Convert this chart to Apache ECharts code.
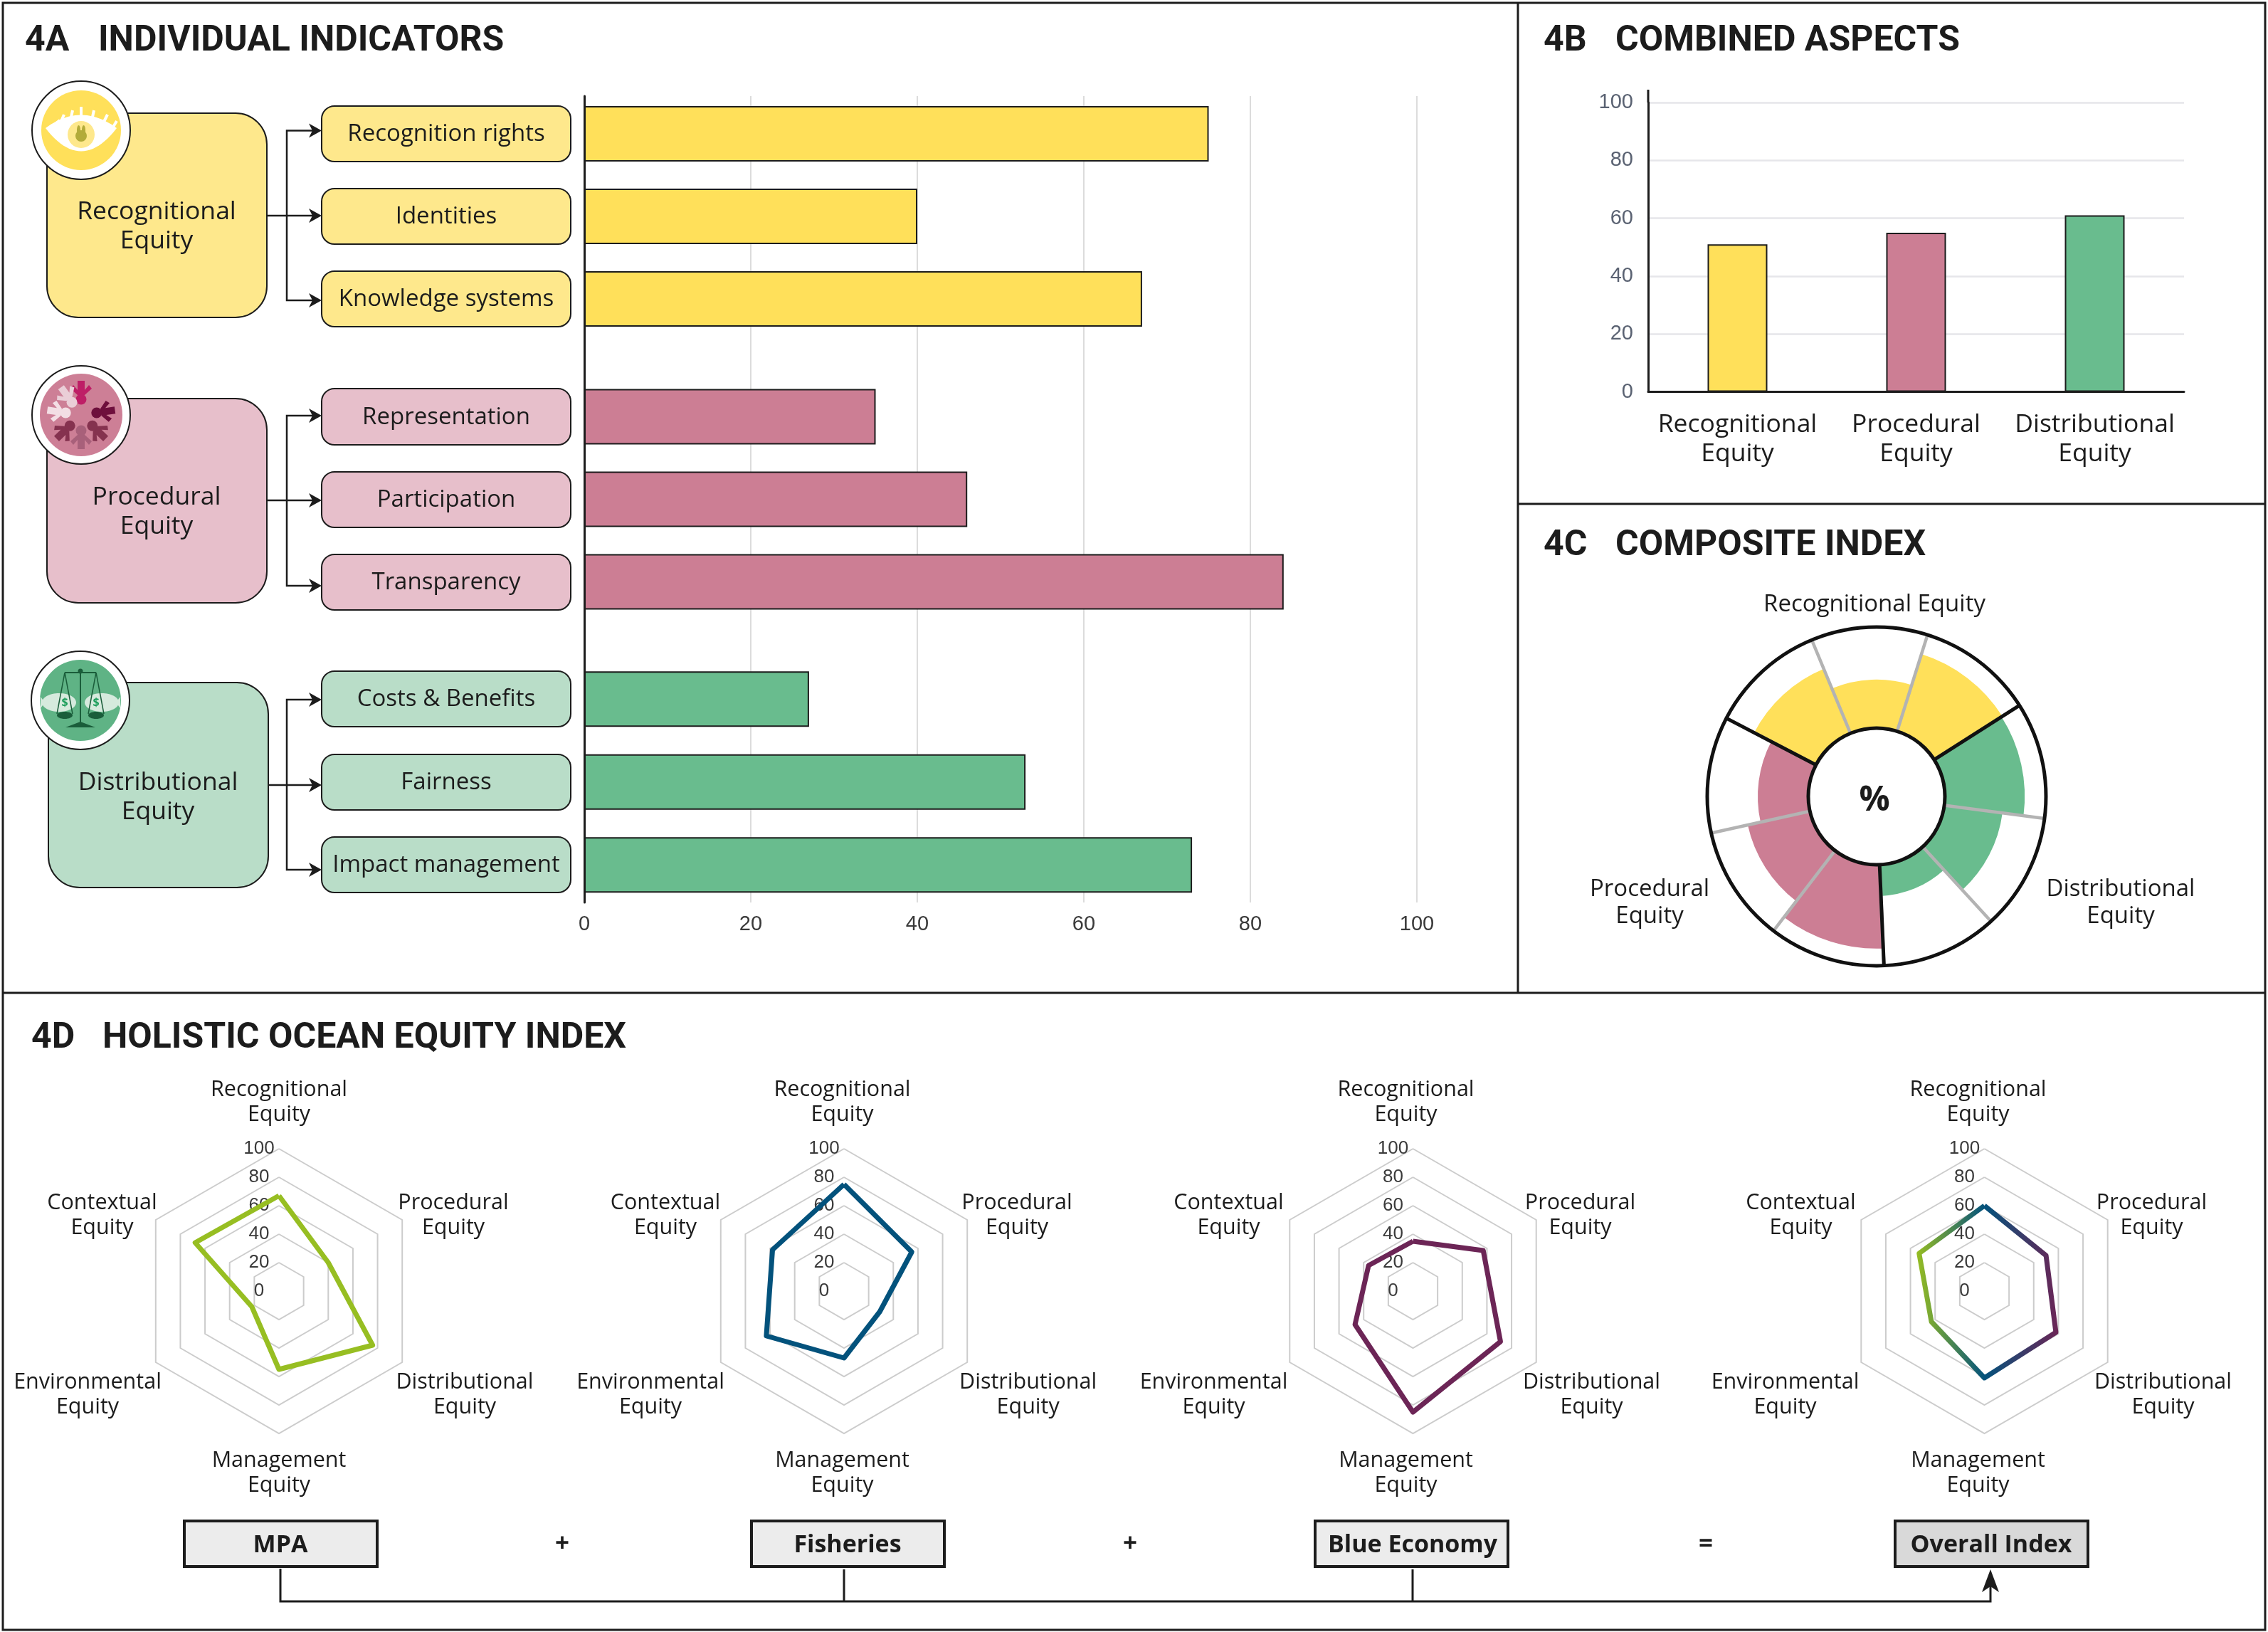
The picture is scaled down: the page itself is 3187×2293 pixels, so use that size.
<!DOCTYPE html>
<html>
<head>
<meta charset="utf-8">
<script src="https://cdn.jsdelivr.net/npm/echarts@6/dist/echarts.min.js"></script>
<style>html,body{margin:0;padding:0;background:#fff}#c{width:3187px;height:2293px}</style>
</head>
<body>
<div id="c"></div>
<script>
// ---------- DATA ----------
const indicatorNames = ['Recognition rights','Identities','Knowledge systems','Representation','Participation','Transparency','Costs & Benefits','Fairness','Impact management'];
const indicatorValues = [75,40,67,35,46,84,27,53,73];
const aspectNames = ['Recognitional Equity','Procedural Equity','Distributional Equity'];
const aspectValues = [51,55,61];
const compositeNames = ['Recognition rights','Identities','Knowledge systems','Costs & Benefits','Fairness','Impact management','Representation','Participation','Transparency'];
const compositeValues = [69,48,80,79,58,31,83,63,50];
const radarAxes = ['Recognitional Equity','Procedural Equity','Distributional Equity','Management Equity','Environmental Equity','Contextual Equity'];
const mpaValues = [67,40,76,55,22,68];
const fisheriesValues = [75,55,29,47,63,58];
const blueEconomyValues = [35,57,71,85,47,36];
const overallValues = [60,50,58,61,43,53];
const radarTitles = ['MPA','Fisheries','Blue Economy','Overall Index'];

// ---------- STYLE ----------
const YEL='#FFE05A',YEL2='#FEE88C',PNK='#CC7E94',PNK2='#E7BFCB',GRN='#69BC8E',GRN2='#B9DDC8';
const INK='#1c1c1c', SANS='"Open Sans"', HEAD='Roboto', NUM='"Liberation Sans"';
const groupColors=[YEL,YEL,YEL,PNK,PNK,PNK,GRN,GRN,GRN];
const aspectColors=[YEL,PNK,GRN];
const compositeColors=[YEL,YEL,YEL,GRN,GRN,GRN,PNK,PNK,PNK];

const g=[];
function line(pts,w,c,z){g.push({type:'polyline',z:z||1,shape:{points:pts},style:{stroke:c||INK,lineWidth:w||3,fill:null,lineJoin:'miter'},silent:true});}
function poly(pts,c,z){g.push({type:'polygon',z:z||3,shape:{points:pts},style:{fill:c},silent:true});}
function circ(x,y,r,fill,stroke,w,z){g.push({type:'circle',z:z||3,shape:{cx:x,cy:y,r:r},style:{fill:fill,stroke:stroke||null,lineWidth:w||0},silent:true});}
function ell(x,y,rx,ry,fill,z){g.push({type:'ellipse',z:z||3,shape:{cx:x,cy:y,rx:rx,ry:ry},style:{fill:fill},silent:true});}
function box(x0,y0,x1,y1,r,fill,stroke,w,z){g.push({type:'rect',z:z||2,shape:{x:x0,y:y0,width:x1-x0,height:y1-y0,r:r},style:{fill:fill,stroke:stroke,lineWidth:w},silent:true});}
function txt(t,x,y,size,o){o=o||{};g.push({type:'text',z:o.z||5,silent:true,style:{text:t,x:x,y:y,fontFamily:o.font||SANS,fontSize:size,fontWeight:o.weight||'normal',fill:o.fill||INK,align:o.align||'center',verticalAlign:o.va||'middle',lineHeight:o.lh||Math.round(size*1.17)}});}

// ---------- PANELS ----------
const P=3;
box(4,4,3183,2290,0,'transparent',INK,P,1);
line([[2133,4],[2133,1395]],P,INK,1);
line([[2133,708],[3183,708]],P,INK,1);
line([[4,1395],[3183,1395]],P,INK,1);
// titles
[['4A','INDIVIDUAL INDICATORS',35,138,58],['4B','COMBINED ASPECTS',2169,2270,58],['4C','COMPOSITE INDEX',2169,2270,767],['4D','HOLISTIC OCEAN EQUITY INDEX',44,144,1459]].forEach(t=>{
  txt(t[0],t[2],t[4],50,{font:HEAD,weight:'bold',align:'left'});
  txt(t[1],t[3],t[4],50,{font:HEAD,weight:'bold',align:'left'});
});

// ---------- 4A left flow ----------
const flow=[
 {x0:66,x1:375,y0:159,y1:446,fill:YEL2,tx:220,ty:318,name:'Recognitional\nEquity',rows:[[149,227],[265,343],[381,459]],arrows:[183.5,303,422]},
 {x0:66,x1:375,y0:560,y1:847,fill:PNK2,tx:220,ty:719,name:'Procedural\nEquity',rows:[[546,625],[663,741],[779,857]],arrows:[584,703,823]},
 {x0:68,x1:377,y0:959,y1:1247,fill:GRN2,tx:222,ty:1120,name:'Distributional\nEquity',rows:[[943,1021],[1060,1138],[1176,1254]],arrows:[983,1103,1222]}
];
flow.forEach((f,i)=>{
  box(f.x0,f.y0,f.x1,f.y1,44,f.fill,INK,2,2);
  txt(f.name,f.tx,f.ty,35.5,{lh:41});
  f.rows.forEach((r,j)=>{
    box(452,r[0],802,r[1],18,f.fill,INK,2,2);
    txt(indicatorNames[i*3+j],627,(r[0]+r[1])/2+1,33,{});
  });
  const a=f.arrows;
  line([[f.x1,a[1]],[440,a[1]]],2.5);
  line([[440,a[0]],[403,a[0]],[403,a[2]],[440,a[2]]],2.5);
  a.forEach(y=>poly([[452,y],[434,y-10],[439,y],[434,y+10]],INK,3));
});

// icons
function bz(p0,c,p1,n){const o=[];for(let i=0;i<=n;i++){const t=i/n,u=1-t;o.push([u*u*p0[0]+2*u*t*c[0]+t*t*p1[0],u*u*p0[1]+2*u*t*c[1]+t*t*p1[1]]);}return o;}
// eye
(function(){
 const cx=114,cy=183;
 circ(cx,cy,69,'#fff',INK,2,3); circ(cx,cy,56,YEL,null,0,3);
 poly(bz([cx-50,cy-3],[cx,cy-40],[cx+50,cy-3],24).concat(bz([cx+50,cy-3],[cx,cy+62],[cx-50,cy-3],24)),'#fff',4);
 [[-44,-3,-30,-14],[-30,-8,-24,-22],[-15,-14,-12,-28],[0,-17,0,-33],[15,-14,18,-28],[30,-8,37,-22],[44,-3,50,-13]].forEach(l=>line([[cx+l[0],cy+l[1]],[cx+l[2],cy+l[3]]],4,'#fff',4));
 circ(cx,cy+6,19,YEL2,null,0,5);
 circ(cx,cy+8,8,'#B3AB3A',null,0,6);
 ell(cx-3.5,cy,2.5,7,'#B3AB3A',6); ell(cx+3.5,cy,2.5,7,'#B3AB3A',6);
})();
// people
(function(){
 const cx=114,cy=583;
 circ(cx,cy,69,'#fff',INK,2,3); circ(cx,cy,58,'#CD7F96',null,0,3);
 const cols=['#BE1E66','#6E0F3C','#85324F','#A8607A','#85324F','#F3DEE4','#EACED7'];
 const angs=[-90,-8,44,90,136,188,234];
 const body=[[28,-5],[37,-15],[42,-11],[35,-5],[48,-5],[48,5],[35,5],[42,11],[37,15],[28,5]];
 cols.forEach((c,i)=>{
  const a=angs[i]*Math.PI/180, ca=Math.cos(a), sa=Math.sin(a);
  poly(body.map(p=>[cx+p[0]*ca-p[1]*sa,cy+p[0]*sa+p[1]*ca]),c,5);
  circ(cx+22*ca,cy+22*sa,7.5,c,null,0,5);
 });
})();
// scales
(function(){
 const cx=113,cy=984,d='#1A5D3A',pale='#D6EADD';
 circ(cx,cy,69,'#fff',INK,2,3); circ(cx,cy,57,'#5FB385',null,0,3);
 [-1,1].forEach(s=>{
  ell(cx+s*30,cy+3,24,13,pale,4);
  poly([[cx+s*50,cy+3],[cx+s*56,cy-5],[cx+s*56,cy+11]],pale,4);
  line([[cx+s*22,cy-39],[cx+s*11,cy+19]],1.5,d,5);
  line([[cx+s*22,cy-39],[cx+s*33,cy+19]],1.5,d,5);
  ell(cx+s*22,cy+21,11,5,d,5);
  txt('$',cx+s*22,cy+3,16,{fill:'#1E9E5C',weight:'bold',z:6});
 });
 line([[cx-22,cy-39],[cx+22,cy-39]],2,d,5);
 line([[cx,cy-41],[cx,cy+36]],2,d,5);
 circ(cx,cy-41,3.5,d,null,0,5);
 poly([[cx-21,cy+38],[cx,cy+30],[cx+21,cy+38]],d,5);
})();

// ---------- 4C texts ----------
txt('Recognitional Equity',2634,850,33);
txt('Procedural\nEquity',2318,1269,33,{lh:38});
txt('Distributional\nEquity',2980,1269,33,{lh:38});
txt('%',2634,1125,48,{weight:'bold',z:8});

// ---------- 4D texts / boxes ----------
const radarCenters=[[392,1814],[1186,1814],[1985.5,1814],[2788.5,1814]];
const nameOff=[
 [[0,-265],[245,-106],[261,146],[0,256],[-269,146],[-248.5,-106]],
 [[-2.5,-265],[243,-106],[258.6,146],[-2.5,256],[-272,146],[-251,-106]],
 [[-10,-265],[235,-106],[251,146],[-10,256],[-280,146],[-259,-106]],
 [[-9,-265],[235,-106],[251,146],[-9,256],[-280,146],[-258,-106]]
];
radarCenters.forEach((c,i)=>{
  radarAxes.forEach((n,j)=>txt(n.replace(' ','\n'),c[0]+nameOff[i][j][0],c[1]+nameOff[i][j][1],30.5,{lh:35}));
});
const boxes=[[259,530,'#ececec',394],[1056,1327,'#ececec',1191],[1848,2119,'#ececec',1985],[2663,2934,'#d9d9d9',2798]];
boxes.forEach((b,i)=>{
  box(b[0],2137,b[1],2201,0,b[2],INK,4,2);
  txt(radarTitles[i],b[3],2171,34,{weight:'bold'});
});
txt('+',790,2170,35,{weight:'bold'});
txt('+',1588,2170,35,{weight:'bold'});
txt('=',2397,2170,35,{weight:'bold'});
line([[394,2204],[394,2250],[2797,2250],[2797,2220]],3);
line([[1186,2205],[1186,2250]],3);
line([[1985,2205],[1985,2250]],3);
poly([[2797,2205],[2785,2237],[2797,2229],[2809,2237]],INK,3);

// extension of the 4B y axis line above 100
line([[2316,126],[2316,144]],3);

// ---------- ECHARTS ----------
const numLabel={fontFamily:NUM,fontSize:29,color:'#3a3a3a'};
const grids=[{left:821,top:135,width:1170,height:1133}];
const xAxes=[{gridIndex:0,type:'value',min:0,max:100,interval:20,axisLine:{show:false},axisTick:{show:false},
  axisLabel:Object.assign({margin:16},numLabel),splitLine:{show:true,lineStyle:{color:'#dcdcdc',width:2}}}];
const yAxes=[{gridIndex:0,type:'value',min:0,max:100,axisLine:{show:true,onZero:false,lineStyle:{color:INK,width:3}},axisTick:{show:false},axisLabel:{show:false},splitLine:{show:false}}];
const series=[];
[[130,348],[527.5,348],[924,349.5]].forEach((r,k)=>{
  const idx=k+1;
  grids.push({left:821,top:r[0],width:1170,height:r[1]});
  xAxes.push({gridIndex:idx,type:'value',min:0,max:100,show:false});
  yAxes.push({gridIndex:idx,type:'category',inverse:true,show:false,data:indicatorNames.slice(k*3,k*3+3)});
  series.push({type:'bar',xAxisIndex:idx,yAxisIndex:idx,barWidth:78,silent:true,
    data:indicatorValues.slice(k*3,k*3+3).map((v,j)=>({value:v,itemStyle:{color:groupColors[k*3+j]}})),
    itemStyle:{borderColor:INK,borderWidth:2}});
});
// 4B
grids.push({left:2316,top:144,width:753,height:406.5});
xAxes.push({gridIndex:4,type:'category',data:aspectNames,axisLine:{lineStyle:{color:INK,width:3}},axisTick:{show:false},
  axisLabel:{fontFamily:SANS,fontSize:35.5,color:INK,lineHeight:41,margin:26,formatter:s=>s.replace(' ','\n'),interval:0}});
yAxes.push({gridIndex:4,type:'value',min:0,max:100,interval:20,axisLine:{show:true,lineStyle:{color:INK,width:3}},axisTick:{show:false},
  axisLabel:{fontFamily:NUM,fontSize:29,color:'#5a6272',margin:21},splitLine:{lineStyle:{color:'#e6e6ea',width:2.5}}});
series.push({type:'bar',xAxisIndex:4,yAxisIndex:4,barWidth:84,silent:true,
  data:aspectValues.map((v,i)=>({value:v,itemStyle:{color:aspectColors[i]}})),itemStyle:{borderColor:INK,borderWidth:2}});

// 4C polar
const polarCenter=[2637,1119];
const polar=[{center:polarCenter,radius:[96,238]},{center:polarCenter,radius:[96,238]}];
const angleAxis=[
 {polarIndex:0,type:'category',data:compositeNames,startAngle:152.5,z:5,axisLine:{show:false},axisTick:{show:false},axisLabel:{show:false},
  splitLine:{show:true,lineStyle:{color:'#b3b3b3',width:4.5}}},
 {polarIndex:1,type:'category',data:aspectNames,startAngle:152.5,z:6,axisLine:{show:true,lineStyle:{color:'#111',width:5}},axisTick:{show:false},axisLabel:{show:false},
  splitLine:{show:true,lineStyle:{color:'#111',width:5}}}
];
const radiusAxis=[
 {polarIndex:0,type:'value',min:0,max:100,axisLine:{show:false},axisTick:{show:false},axisLabel:{show:false},splitLine:{show:false}},
 {polarIndex:1,type:'value',min:0,max:100,axisLine:{show:false},axisTick:{show:false},axisLabel:{show:false},splitLine:{show:false}}
];
series.push({type:'bar',coordinateSystem:'polar',polarIndex:0,barWidth:'100%',silent:true,
  data:compositeValues.map((v,i)=>({value:v,itemStyle:{color:compositeColors[i]}}))});

// 4D radars: ECharts lays indicators out counter-clockwise, the picture runs clockwise
const clockwiseOrder=[0,5,4,3,2,1];
const radar=radarCenters.map(c=>({
  center:c,radius:200,startAngle:90,splitNumber:5,shape:'polygon',
  indicator:clockwiseOrder.map((k,i)=>({name:radarAxes[k],min:0,max:100,
    axisLabel:i===0?{show:true,fontFamily:NUM,fontSize:26,color:'#3a3a3a',margin:28,align:'center',verticalAlign:'middle',rotate:0,padding:[6,0,0,0]}:{show:false}})),
  axisName:{show:false},
  axisLine:{show:false},axisTick:{show:false},
  splitArea:{show:false},
  splitLine:{lineStyle:{color:'#cccccc',width:2}}
}));
const radarSeries=[[mpaValues,'#97BE22'],[fisheriesValues,'#03527C'],[blueEconomyValues,'#6C2556'],
 [overallValues,new echarts.graphic.LinearGradient(0,0,1,0,[{offset:0,color:'#97BE22'},{offset:0.48,color:'#03527C'},{offset:1,color:'#6C2556'}])]];
radarSeries.forEach((r,i)=>series.push({type:'radar',radarIndex:i,symbol:'none',silent:true,
  lineStyle:{color:r[1],width:7,join:'round'},data:[{value:clockwiseOrder.map(k=>r[0][k]),name:radarTitles[i]}]}));

const chart=echarts.init(document.getElementById('c'),null,{width:3187,height:2293});
chart.setOption({backgroundColor:'#fff',animation:false,textStyle:{fontFamily:SANS},
  grid:grids,xAxis:xAxes,yAxis:yAxes,polar:polar,angleAxis:angleAxis,radiusAxis:radiusAxis,radar:radar,series:series,
  graphic:{elements:g}});
</script>
</body>
</html>
